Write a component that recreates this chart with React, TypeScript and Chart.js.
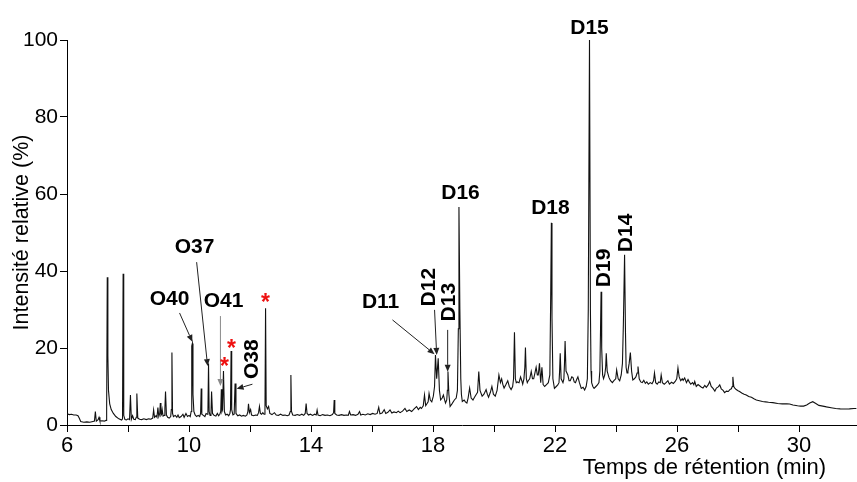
import React, { useEffect, useRef } from 'react';
import { Chart, registerables } from 'chart.js';

Chart.register(...registerables);

// ---------- axis definitions ----------
const X_MIN = 6;
const X_MAX = 31.9;
const xLabeledTicks = [6, 10, 14, 18, 22, 26, 30];
const xMinorTicks = [8, 12, 16, 20, 24, 28];
const yTicks = [0, 20, 40, 60, 80, 100];
const xTitle = 'Temps de rétention (min)';
const yTitle = 'Intensité relative (%)';

// ---------- chromatogram trace: [retention time (min), relative intensity (%)] ----------
const earlyTrace: [number, number][] = [
  [6.0, 2.9], [6.08, 2.7], [6.15, 2.8], [6.22, 2.6], [6.3, 2.6], [6.36, 2.4], [6.4, 1.8], [6.45, 0.9],
  [6.55, 0.7], [6.65, 0.8], [6.75, 0.7], [6.85, 0.9], [6.9, 1.0], [6.93, 3.5], [6.96, 1.0], [7.02, 1.4],
  [7.05, 2.0], [7.08, 1.0], [7.15, 1.1], [7.22, 1.0], [7.28, 1.2], [7.3, 4], [7.32, 38.4], [7.34, 18],
  [7.36, 9], [7.4, 5.5], [7.45, 4.0], [7.52, 3.0], [7.6, 2.2], [7.7, 1.6], [7.79, 1.3], [7.82, 1.6],
  [7.84, 39.3], [7.86, 2.5], [7.9, 1.4], [7.95, 1.3], [8.0, 1.6], [8.05, 1.4], [8.08, 7.8], [8.11, 1.5],
  [8.15, 2.4], [8.19, 1.5], [8.24, 1.4], [8.27, 2.0], [8.29, 8.2], [8.32, 1.8], [8.38, 1.5], [8.45, 1.4],
  [8.52, 1.6], [8.6, 1.4], [8.68, 1.6], [8.75, 1.5], [8.81, 1.8], [8.84, 3.9], [8.87, 2.0], [8.92, 2.4],
  [8.95, 2.0], [8.98, 4.5], [9.01, 2.2], [9.04, 3.0], [9.06, 5.7], [9.08, 2.5], [9.1, 2.8], [9.12, 4.0],
  [9.15, 2.3], [9.19, 2.5], [9.21, 4.5], [9.23, 8.7], [9.26, 2.6], [9.3, 2.0], [9.35, 1.8], [9.4, 2.2],
  [9.42, 4], [9.44, 18.8], [9.46, 3], [9.49, 2.2], [9.55, 2.5], [9.6, 2.0], [9.64, 2.6], [9.68, 1.9],
  [9.74, 2.2], [9.8, 2.8], [9.84, 2.0], [9.9, 3.0], [9.95, 2.2], [10.0, 2.5], [10.04, 2.2], [10.07, 3.5],
  [10.09, 20.5], [10.11, 21.2], [10.13, 8], [10.16, 3.5], [10.2, 2.6], [10.25, 2.2], [10.3, 2.5],
  [10.35, 2.2], [10.38, 3.0], [10.4, 9.5], [10.42, 2.8], [10.47, 2.5], [10.52, 2.2], [10.56, 3.0],
  [10.6, 2.8], [10.62, 3.5], [10.64, 16], [10.66, 3.5], [10.69, 2.5], [10.72, 2.8], [10.74, 8.7], [10.77, 3.0],
  [10.82, 2.5], [10.88, 2.3], [10.93, 3.0], [10.97, 2.4], [11.01, 2.8], [11.04, 3.5], [11.06, 9.3],
  [11.08, 3.5], [11.1, 4.0], [11.13, 14], [11.16, 3.5], [11.2, 2.6], [11.25, 2.8], [11.3, 2.4], [11.34, 3.0],
  [11.36, 4], [11.38, 19.2], [11.4, 4], [11.44, 2.6], [11.48, 2.8], [11.51, 10.8], [11.54, 3.0], [11.6, 2.4],
  [11.66, 2.6], [11.72, 2.3], [11.78, 2.5], [11.85, 2.3], [11.9, 2.6], [11.93, 3.5], [11.95, 5.5],
  [11.98, 3.2], [12.02, 4.0], [12.05, 2.6], [12.12, 2.4], [12.18, 2.6], [12.24, 2.5], [12.28, 3.2],
  [12.31, 4.8], [12.34, 3.0], [12.38, 2.8], [12.42, 3.2], [12.46, 2.8], [12.49, 3.5], [12.51, 30.3],
  [12.53, 5], [12.57, 4.2], [12.61, 4.8], [12.65, 3.0], [12.72, 2.7], [12.8, 3.2], [12.86, 2.6],
];

const midTrace: [number, number][] = [
  [12.93, 2.5], [13.0, 2.8], [13.08, 2.5], [13.15, 2.6], [13.22, 2.4], [13.28, 2.6], [13.32, 3.5], [13.34, 13],
  [13.36, 3.5], [13.4, 2.6], [13.48, 2.5], [13.55, 2.7], [13.62, 2.5], [13.7, 2.8], [13.76, 2.5], [13.81, 3.0],
  [13.84, 5.6], [13.87, 3.0], [13.92, 2.6], [13.98, 2.8], [14.05, 2.5], [14.12, 2.8], [14.17, 2.6],
  [14.2, 3.9], [14.23, 2.6], [14.3, 2.4], [14.38, 2.7], [14.46, 2.5], [14.54, 2.6], [14.62, 2.4],
  [14.7, 2.7], [14.74, 3.2], [14.76, 6.5], [14.78, 3.0], [14.84, 2.6], [14.92, 2.5], [15.0, 2.7],
  [15.08, 2.5], [15.16, 2.6], [15.22, 2.5], [15.26, 3.5], [15.3, 2.6], [15.38, 2.7], [15.46, 2.5],
  [15.54, 2.8], [15.59, 3.5], [15.63, 2.6], [15.7, 2.8], [15.78, 2.6], [15.86, 2.9], [15.94, 2.7],
  [16.02, 3.0], [16.1, 2.8], [16.17, 3.0], [16.22, 4.6], [16.26, 2.9], [16.33, 3.1], [16.4, 4.0],
  [16.45, 3.0], [16.52, 3.3], [16.59, 3.9], [16.65, 3.1], [16.72, 3.4], [16.8, 3.2], [16.86, 3.6],
  [16.92, 3.2], [17.0, 3.6], [17.08, 4.3], [17.14, 3.5], [17.22, 3.9], [17.3, 3.5], [17.38, 4.2],
  [17.46, 4.8], [17.52, 4.0], [17.58, 4.6], [17.62, 4.3], [17.68, 5.0], [17.72, 7.8], [17.76, 5.0],
  [17.8, 5.5], [17.84, 6.0], [17.87, 8.2], [17.91, 6.5], [17.96, 6.0], [18.01, 7.5], [18.05, 10],
  [18.08, 18.2], [18.12, 12], [18.17, 17.3], [18.21, 9], [18.25, 6.5], [18.3, 7.0], [18.34, 7.8],
  [18.38, 6.5], [18.41, 5.7], [18.45, 6.5], [18.47, 9], [18.49, 13.9], [18.52, 8], [18.56, 4.8],
  [18.62, 5.5], [18.7, 6.5], [18.76, 7.0], [18.8, 9], [18.83, 25], [18.85, 56.6], [18.88, 30],
  [18.91, 12], [18.93, 8], [18.96, 6.1], [19.02, 6.5], [19.06, 6.0], [19.11, 5.7], [19.15, 7], [19.2, 9.6],
  [19.25, 7], [19.31, 6.5], [19.36, 7.2], [19.42, 8], [19.46, 8.5], [19.5, 13.9], [19.54, 9], [19.61, 7.5],
  [19.67, 8.0], [19.74, 9.2], [19.78, 8.0], [19.82, 7.2], [19.88, 8.5], [19.93, 10], [19.98, 8.0],
  [20.04, 7.5], [20.1, 9], [20.16, 13], [20.21, 11], [20.25, 12], [20.29, 10.5], [20.33, 9.6],
  [20.39, 10.5], [20.45, 11.5], [20.5, 10], [20.56, 9.2], [20.61, 10], [20.64, 12], [20.67, 24.1],
  [20.7, 12], [20.73, 11], [20.76, 11.2], [20.82, 11.0], [20.87, 12.5], [20.91, 11.5], [20.94, 10.6],
  [20.98, 12], [21.01, 15], [21.03, 20.1], [21.06, 12], [21.09, 11.0], [21.12, 11.5], [21.17, 12],
  [21.22, 13.9], [21.26, 12], [21.3, 12], [21.34, 13.5], [21.38, 15], [21.42, 13], [21.45, 13],
  [21.49, 16], [21.53, 11], [21.57, 15], [21.61, 10.5], [21.66, 10], [21.72, 10.5], [21.78, 11],
  [21.83, 13], [21.86, 35], [21.88, 52.5], [21.9, 28], [21.93, 12], [21.98, 9.5], [22.04, 10],
];

const lateTrace: [number, number][] = [
  [22.09, 10.4], [22.13, 11], [22.15, 14], [22.17, 18.6], [22.2, 12], [22.26, 11], [22.29, 12], [22.31, 16],
  [22.33, 21.8], [22.36, 14], [22.42, 13], [22.46, 11.5], [22.5, 11.5], [22.55, 12.5], [22.59, 12.3],
  [22.63, 11.2], [22.67, 11], [22.71, 11.8], [22.75, 12.5], [22.8, 11], [22.86, 9.5], [22.92, 9.8],
  [22.97, 9.1], [23.02, 10], [23.06, 12], [23.09, 30], [23.13, 100], [23.16, 30], [23.18, 14],
  [23.2, 11], [23.24, 10], [23.28, 9.5], [23.34, 10], [23.39, 10.4], [23.44, 11], [23.47, 14], [23.49, 24],
  [23.51, 34.6], [23.53, 20], [23.56, 13], [23.59, 12], [23.63, 13], [23.66, 15], [23.68, 18.6],
  [23.71, 14], [23.77, 12.3], [23.82, 11.5], [23.88, 11], [23.93, 11.5], [23.99, 12], [24.02, 14.3],
  [24.07, 12], [24.12, 11.5], [24.17, 13], [24.21, 16], [24.24, 26], [24.28, 44.2], [24.31, 24],
  [24.33, 15], [24.36, 13.5], [24.39, 14], [24.43, 16], [24.47, 18.8], [24.51, 14],
  [24.55, 11.7], [24.6, 12], [24.65, 12.5], [24.69, 13.5], [24.72, 15.2], [24.76, 12], [24.81, 11.2],
  [24.86, 11], [24.91, 11.6], [24.96, 10.8], [25.01, 11.2], [25.06, 10.6], [25.12, 11], [25.18, 10.7],
  [25.23, 11.5], [25.26, 13.5], [25.3, 11], [25.35, 10.6], [25.4, 11.2], [25.45, 11], [25.48, 13],
  [25.52, 11], [25.58, 10.6], [25.64, 11], [25.7, 11.5], [25.75, 10.6], [25.82, 11.1], [25.88, 10.8],
  [25.94, 11.3], [25.99, 12], [26.03, 14.8], [26.07, 12.5], [26.12, 11.5], [26.17, 12], [26.2, 11.6],
  [26.25, 12.2], [26.31, 11], [26.36, 11.8], [26.4, 11.2], [26.45, 10.6], [26.51, 11], [26.55, 10.5],
  [26.58, 11.3], [26.63, 10], [26.69, 10.5], [26.74, 10.2], [26.8, 9.8], [26.85, 9.6], [26.91, 10.3],
  [26.96, 9.8], [27.02, 10.4], [27.07, 11.3], [27.12, 10], [27.18, 9.5], [27.24, 8.8], [27.29, 9.6],
  [27.35, 9.9], [27.4, 10.4], [27.45, 9.4], [27.51, 9.0], [27.56, 8.4], [27.62, 8.8], [27.68, 8.7],
  [27.73, 9.2], [27.78, 9.4], [27.81, 10], [27.83, 12.5], [27.86, 10], [27.9, 9.5], [27.94, 9.2],
  [28.0, 8.9], [28.05, 8.7], [28.12, 8.3], [28.2, 8.0], [28.27, 7.8], [28.35, 7.4], [28.44, 7.2],
  [28.52, 6.8], [28.6, 6.5], [28.7, 6.3], [28.8, 6.1], [28.9, 6.0], [29.0, 5.9], [29.14, 5.8], [29.3, 5.6],
  [29.45, 5.5], [29.6, 5.5], [29.69, 5.45], [29.8, 5.2], [29.95, 5.0], [30.05, 4.9], [30.15, 4.9],
  [30.25, 5.2], [30.35, 5.7], [30.45, 6.05], [30.55, 5.6], [30.65, 5.1], [30.78, 4.9], [30.9, 4.7],
  [31.05, 4.5], [31.2, 4.3], [31.35, 4.2], [31.5, 4.15], [31.65, 4.2], [31.8, 4.3], [31.88, 4.3],
];

// ---------- annotations (data coordinates) ----------
const peakLabels = [
  { text: 'D15', t: 23.13, i: 103.4, rotated: false },
  { text: 'D16', t: 18.9, i: 60.5, rotated: false },
  { text: 'D18', t: 21.85, i: 56.6, rotated: false },
  { text: 'D19', t: 23.57, i: 40.8, rotated: true },
  { text: 'D14', t: 24.31, i: 49.9, rotated: true },
  { text: 'D11', t: 16.28, i: 32.2, rotated: false },
  { text: 'D12', t: 17.85, i: 35.8, rotated: true },
  { text: 'D13', t: 18.51, i: 31.9, rotated: true },
  { text: 'O40', t: 9.36, i: 33.0, rotated: false },
  { text: 'O37', t: 10.18, i: 46.5, rotated: false },
  { text: 'O41', t: 11.13, i: 32.5, rotated: false },
  { text: 'O38', t: 12.05, i: 17.1, rotated: true },
];

const asteriskMarks = [
  { t: 12.51, i: 33.0 },
  { t: 11.39, i: 21.0 },
  { t: 11.16, i: 16.4 },
];

const pointerArrows = [
  { t1: 9.69, i1: 29.1, t2: 10.11, i2: 21.6, gray: false },
  { t1: 10.25, i1: 42.3, t2: 10.61, i2: 15.3, gray: false },
  { t1: 11.03, i1: 28.3, t2: 11.03, i2: 10.1, gray: true },
  { t1: 12.08, i1: 10.6, t2: 11.56, i2: 9.4, gray: false },
  { t1: 16.67, i1: 27.3, t2: 18.05, i2: 18.4, gray: false },
  { t1: 18.05, i1: 29.9, t2: 18.12, i2: 18.2, gray: false },
  { t1: 18.48, i1: 24.7, t2: 18.48, i2: 13.8, gray: false },
];

const FONT = '"Liberation Sans", Arial, Helvetica, sans-serif';

const annotationPlugin = {
  id: 'chromAnnotations',
  afterDraw(chart: any) {
    const { ctx, chartArea, scales } = chart;
    const xs = scales.x;
    const ys = scales.y;
    ctx.save();

    // arrows
    pointerArrows.forEach((a) => {
      const x1 = xs.getPixelForValue(a.t1);
      const y1 = ys.getPixelForValue(a.i1);
      const x2 = xs.getPixelForValue(a.t2);
      const y2 = ys.getPixelForValue(a.i2);
      const col = a.gray ? '#8a8a8a' : '#222';
      ctx.strokeStyle = col;
      ctx.fillStyle = col;
      ctx.lineWidth = 1;
      const ang = Math.atan2(y2 - y1, x2 - x1);
      const hl = 7;
      const hw = 3;
      const bx = x2 - hl * Math.cos(ang);
      const by = y2 - hl * Math.sin(ang);
      ctx.beginPath();
      ctx.moveTo(x1, y1);
      ctx.lineTo(bx, by);
      ctx.stroke();
      ctx.beginPath();
      ctx.moveTo(x2, y2);
      ctx.lineTo(bx + hw * Math.sin(ang), by - hw * Math.cos(ang));
      ctx.lineTo(bx - hw * Math.sin(ang), by + hw * Math.cos(ang));
      ctx.closePath();
      ctx.fill();
    });

    // peak labels
    ctx.fillStyle = '#000';
    ctx.font = `bold 21px ${FONT}`;
    ctx.textAlign = 'center';
    ctx.textBaseline = 'middle';
    peakLabels.forEach((l) => {
      const x = xs.getPixelForValue(l.t);
      const y = ys.getPixelForValue(l.i);
      ctx.save();
      ctx.translate(x, y);
      if (l.rotated) ctx.rotate(-Math.PI / 2);
      ctx.fillText(l.text, 0, 1);
      ctx.restore();
    });

    // red asterisks
    ctx.fillStyle = '#ee1111';
    ctx.font = `bold 23px ${FONT}`;
    ctx.textBaseline = 'alphabetic';
    asteriskMarks.forEach((m) => {
      const x = xs.getPixelForValue(m.t);
      const y = ys.getPixelForValue(m.i);
      ctx.fillText('*', x, y + 12);
    });

    // axis titles
    ctx.fillStyle = '#000';
    ctx.font = `22px ${FONT}`;
    ctx.textAlign = 'right';
    ctx.textBaseline = 'middle';
    ctx.fillText(xTitle, 826, chartArea.bottom + 43);
    ctx.save();
    ctx.font = `21.5px ${FONT}`;
    ctx.translate(22, (chartArea.top + chartArea.bottom) / 2);
    ctx.rotate(-Math.PI / 2);
    ctx.textAlign = 'center';
    ctx.fillText(yTitle, 0, 0);
    ctx.restore();

    ctx.restore();
  },
};

export default function App() {
  const canvasRef = useRef<HTMLCanvasElement | null>(null);

  useEffect(() => {
    if (!canvasRef.current) return;
    const points = [...earlyTrace, ...midTrace, ...lateTrace].map(([t, i]) => ({ x: t, y: i }));
    const allXTicks = [...xLabeledTicks, ...xMinorTicks].sort((a, b) => a - b);

    const chart = new Chart(canvasRef.current, {
      type: 'line',
      data: {
        datasets: [
          {
            data: points,
            borderColor: '#111',
            borderWidth: 1.1,
            pointRadius: 0,
            fill: false,
            tension: 0,
          },
        ],
      },
      options: {
        animation: false,
        responsive: false,
        maintainAspectRatio: false,
        devicePixelRatio: 1,
        layout: { padding: { top: 40, right: 0, left: 0, bottom: 0 } },
        plugins: { legend: { display: false }, tooltip: { enabled: false } },
        scales: {
          x: {
            type: 'linear',
            min: X_MIN,
            max: X_MAX,
            afterBuildTicks: (s: any) => {
              s.ticks = allXTicks.map((v) => ({ value: v }));
            },
            afterFit: (s: any) => {
              s.height = 57;
            },
            ticks: {
              autoSkip: false,
              maxRotation: 0,
              padding: 1,
              color: '#000',
              font: { family: FONT, size: 22 },
              callback: (v: any) => (xLabeledTicks.includes(Number(v)) ? String(v) : ''),
            },
            grid: { drawOnChartArea: false, drawTicks: true, tickLength: 7, color: '#000', tickColor: '#000', tickWidth: 1 },
            border: { display: true, color: '#000', width: 1 },
          },
          y: {
            type: 'linear',
            min: 0,
            max: 100,
            afterBuildTicks: (s: any) => {
              s.ticks = yTicks.map((v) => ({ value: v }));
            },
            afterFit: (s: any) => {
              s.width = 67;
            },
            ticks: {
              autoSkip: false,
              padding: 2,
              color: '#000',
              font: { family: FONT, size: 21 },
              callback: (v: any) => String(v),
            },
            grid: { drawOnChartArea: false, drawTicks: true, tickLength: 7, color: '#000', tickColor: '#000', tickWidth: 1 },
            border: { display: true, color: '#000', width: 1 },
          },
        },
      },
      plugins: [annotationPlugin],
    });

    return () => chart.destroy();
  }, []);

  return (
    <div style={{ position: 'absolute', left: 0, top: 0, width: 857, height: 482, background: '#fff' }}>
      <canvas ref={canvasRef} width={857} height={482} style={{ width: 857, height: 482, display: 'block' }} />
    </div>
  );
}
